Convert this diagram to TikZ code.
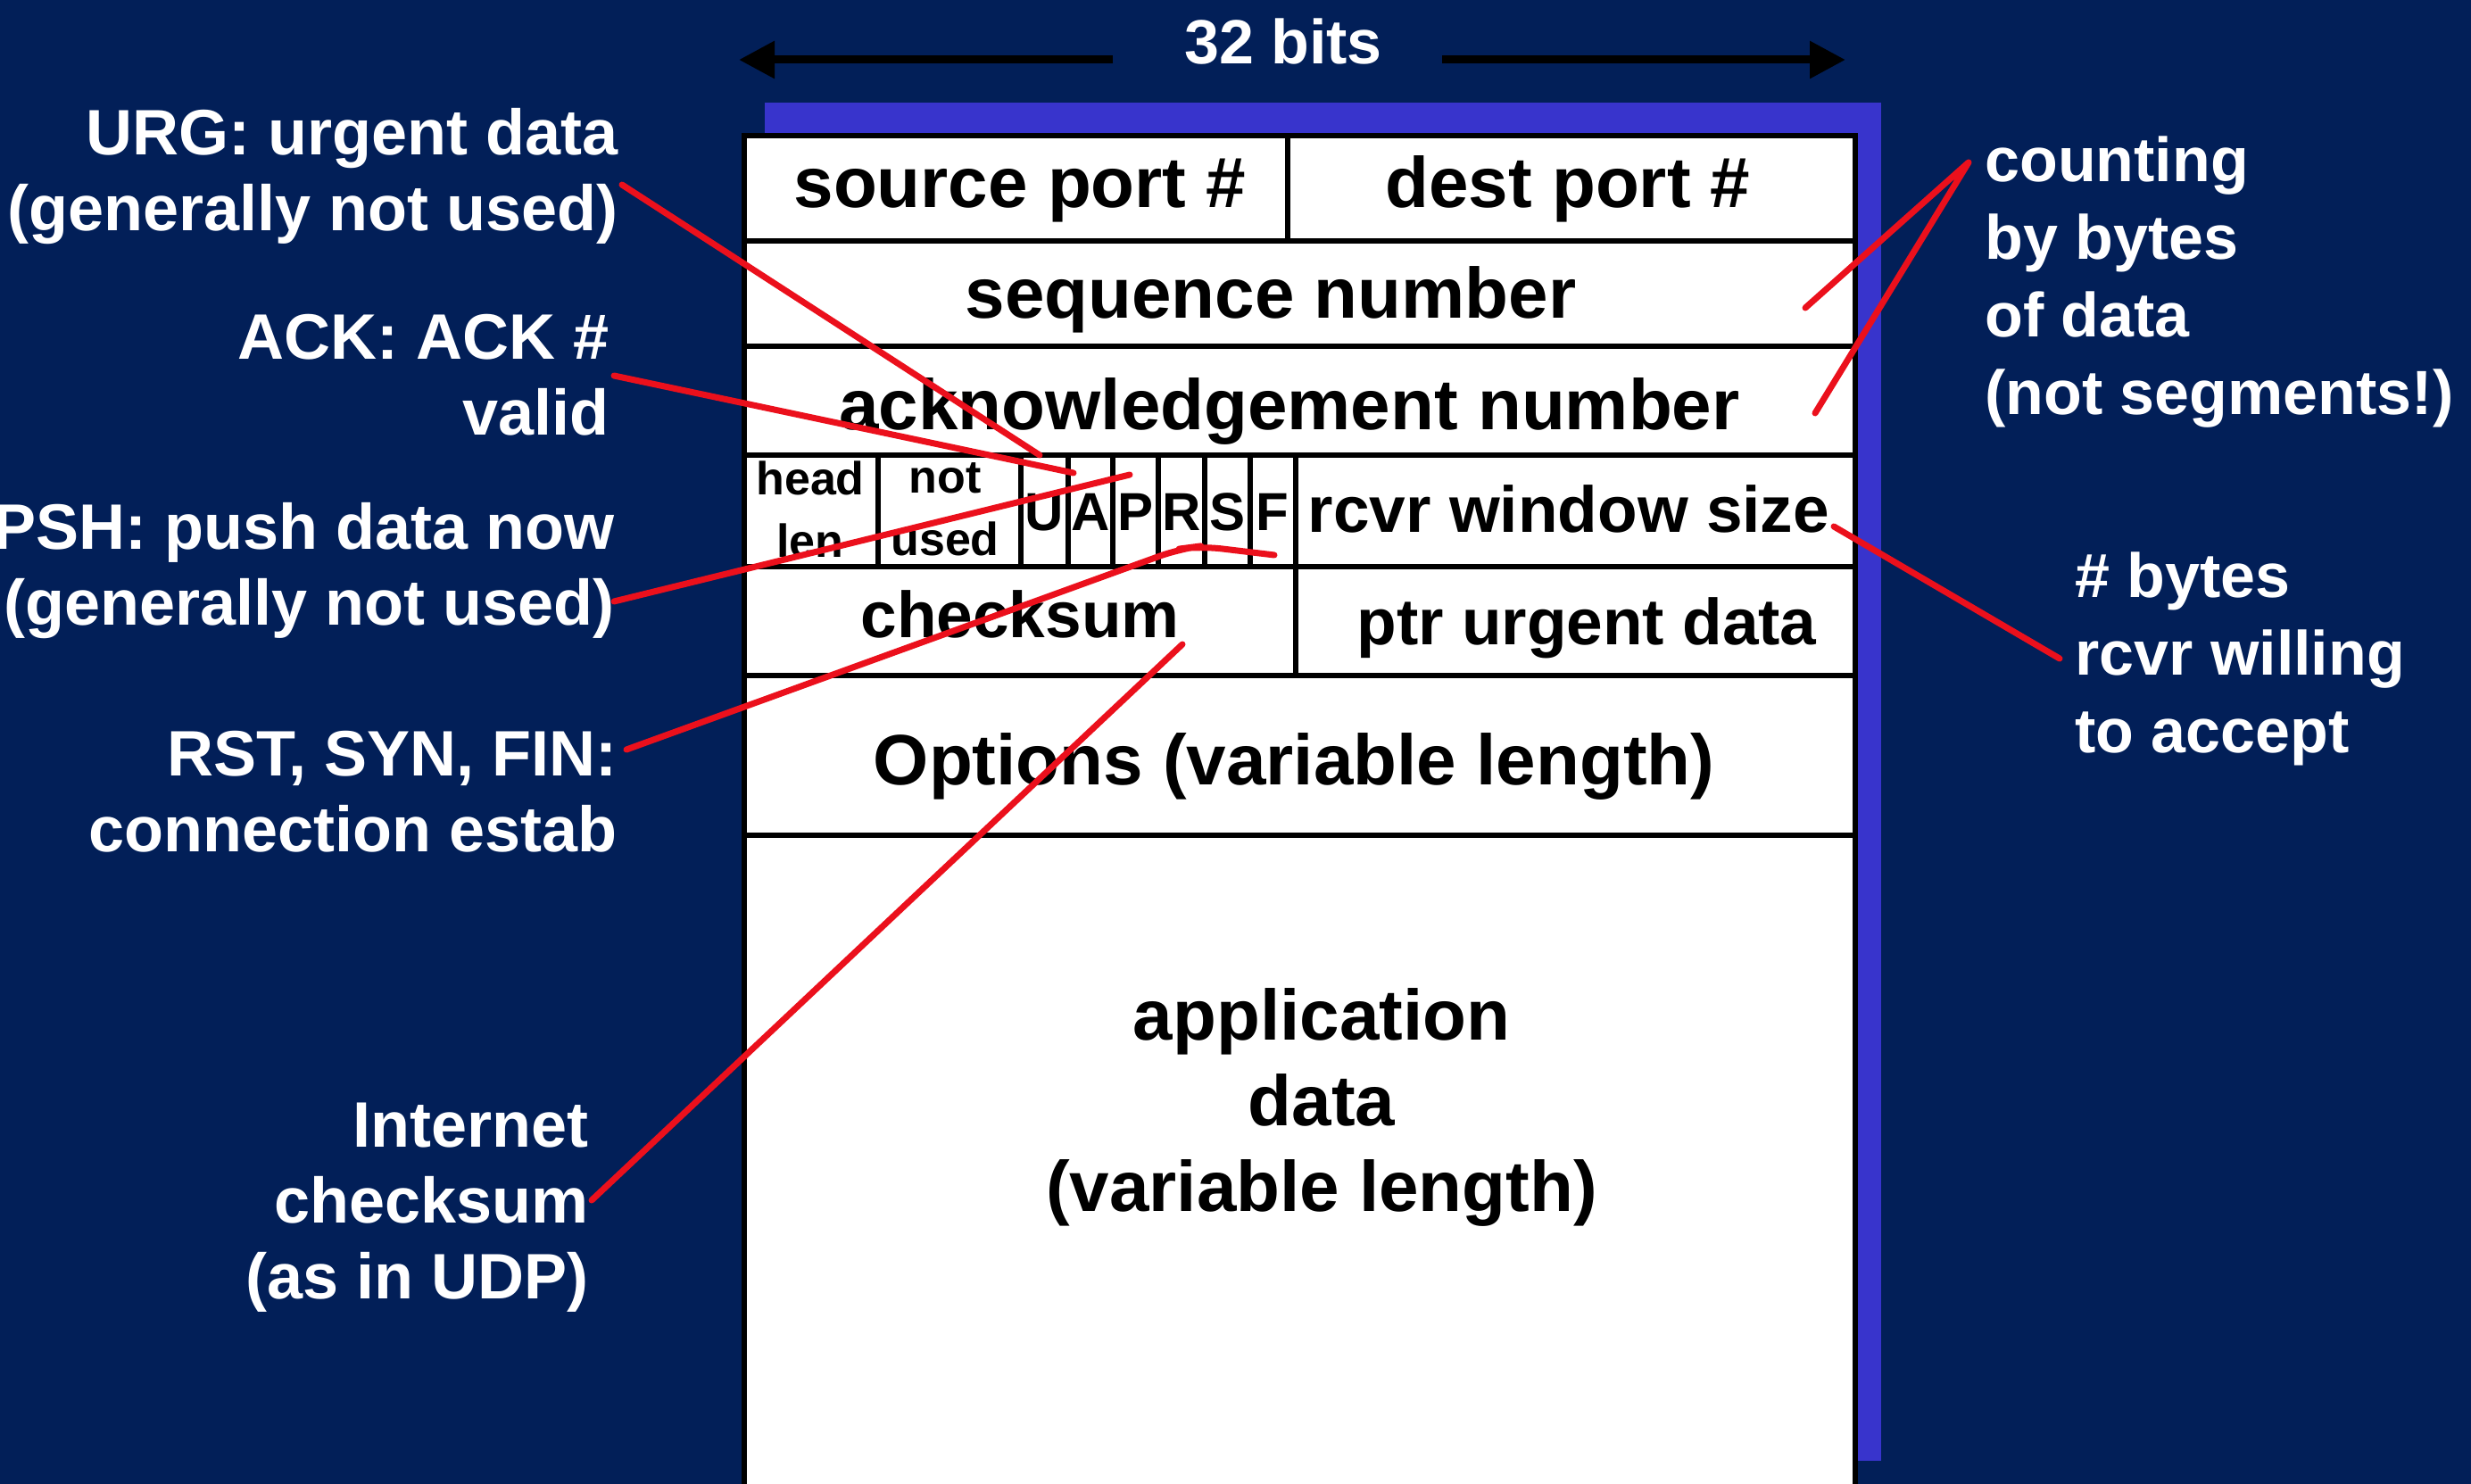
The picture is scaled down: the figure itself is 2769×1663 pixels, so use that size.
\documentclass[tikz,border=0pt]{standalone}
\usepackage{fontspec}
\setmainfont{Liberation Sans}
\usetikzlibrary{arrows.meta}
\definecolor{navy}{RGB}{2,31,88}
\definecolor{shadowblue}{RGB}{56,52,204}
\definecolor{redline}{RGB}{235,16,28}
\begin{document}
\begin{tikzpicture}[x=0.5pt,y=-0.5pt,
  boxtxt/.style={font=\fontsize{40}{48}\selectfont\bfseries,text=black,inner sep=0pt,anchor=base},
  boxtxtsm/.style={font=\fontsize{36.5}{44}\selectfont\bfseries,text=black,inner sep=0pt,anchor=base},
  smalltxt/.style={font=\fontsize{26}{35}\selectfont\bfseries,text=black,inner sep=0pt,align=center},
  flagtxt/.style={font=\fontsize{30}{36}\selectfont\bfseries,text=black,inner sep=0pt,anchor=base},
  leftlbl/.style={font=\fontsize{36}{42.5}\selectfont\bfseries,text=white,inner sep=0pt,align=right,anchor=east},
  rightlbl/.style={font=\fontsize{35}{43.5}\selectfont\bfseries,text=white,inner sep=0pt,align=left,anchor=west},
  gridline/.style={line width=3pt,draw=black},
  pointer/.style={draw=redline,line width=3.5pt,line cap=round,line join=round},
  widtharrow/.style={draw=black,line width=4.5pt,-{Triangle[length=20pt,width=20pt]}}
]
\useasboundingbox (0,0) rectangle (2769,1663);
\clip (0,0) rectangle (2769,1663);
\fill[navy] (0,0) rectangle (2769,1663);
% shadow and segment box
\fill[shadowblue] (857,115) rectangle (2108,1637);
\filldraw[fill=white,gridline] (834,152) rectangle (2079,1700);
\foreach \y in {270,388,510,635,757,936} \draw[gridline] (834,\y) -- (2079,\y);
\draw[gridline] (1443,152) -- (1443,270);
\foreach \x in {984,1144,1197,1247,1298,1350,1401,1452} \draw[gridline] (\x,510) -- (\x,635);
\draw[gridline] (1452,635) -- (1452,757);
% field texts
\node[boxtxt] (srcport) at (1143,233) {source port \#};
\node[boxtxt] (dstport) at (1757,233) {dest port \#};
\node[boxtxt] (seq) at (1424,357) {sequence number};
\node[boxtxt] (acknum) at (1445,482) {acknowledgement number};
\node[smalltxt] (hlen) at (908,571) {head\\len};
\node[smalltxt] (notused) at (1059,571) {not\\used};
\node[flagtxt] (fU) at (1170,595) {U};
\node[flagtxt] (fA) at (1222,595) {A};
\node[flagtxt] (fP) at (1272,595) {P};
\node[flagtxt] (fR) at (1324,595) {R};
\node[flagtxt] (fS) at (1375,595) {S};
\node[flagtxt] (fF) at (1426,595) {F};
\node[boxtxtsm] (rwin) at (1758,597) {rcvr window size};
\node[boxtxtsm] (cksum) at (1143,715) {checksum};
\node[boxtxtsm] (urgptr) at (1778,722) {ptr urgent data};
\node[boxtxt] (opts) at (1450,879) {Options (variable length)};
\node[boxtxt,align=center,anchor=center] (appdata) at (1481,1241) {application\\data\\(variable length)};
% 32 bits
\node[font=\fontsize{35}{42}\selectfont\bfseries,text=white,inner sep=0pt,anchor=base] (bits) at (1438,72) {32 bits};
\coordinate (aLs) at (1247,67); \coordinate (aL) at (828,67);
\coordinate (aRs) at (1616,67); \coordinate (aR) at (2068,67);
\draw[widtharrow] (aLs) -- (aL);
\draw[widtharrow] (aRs) -- (aR);
% labels
\node[leftlbl] (urg) at (693,198) {URG: urgent data\\(generally not used)};
\node[leftlbl] (acklbl) at (683,420) {ACK: ACK \#\\valid};
\node[leftlbl] (psh) at (689,640) {PSH: push data now\\(generally not used)};
\node[leftlbl] (rsf) at (692,887) {RST, SYN, FIN:\\connection estab};
\node[leftlbl] (inet) at (660,1353) {Internet\\checksum\\(as in UDP)};
\node[rightlbl] (cnt) at (2224,316) {counting\\by bytes\\of data\\(not segments!)};
\node[rightlbl] (rcvw) at (2325,738) {\# bytes\\rcvr willing\\to accept};
% pointer end points
\coordinate (urgS) at (697,207);   \coordinate (urgE) at (1165,510);
\coordinate (ackS) at (688,421);   \coordinate (ackE) at (1203,530);
\coordinate (pshS) at (688,674);   \coordinate (pshE) at (1266,532);
\coordinate (rsfS) at (702,840);   \coordinate (rsfB) at (1322,615); \coordinate (rsfE) at (1428,622);
\coordinate (inetS) at (663,1345); \coordinate (inetE) at (1325,722);
\coordinate (cntS) at (2206,182);  \coordinate (cntE1) at (2023,345); \coordinate (cntE2) at (2034,463);
\coordinate (rcvS) at (2308,738);  \coordinate (rcvE) at (2055,590);
% pointers
\draw[pointer] (urgS) -- (urgE);
\draw[pointer] (ackS) -- (ackE);
\draw[pointer] (pshS) -- (pshE);
\draw[pointer,rounded corners=12pt] (rsfS) -- (rsfB) -- (1345,612) -- (rsfE);
\draw[pointer] (inetS) -- (inetE);
\draw[pointer] (cntE1) -- (cntS) -- (cntE2);
\draw[pointer] (rcvS) -- (rcvE);
\end{tikzpicture}
\end{document}
